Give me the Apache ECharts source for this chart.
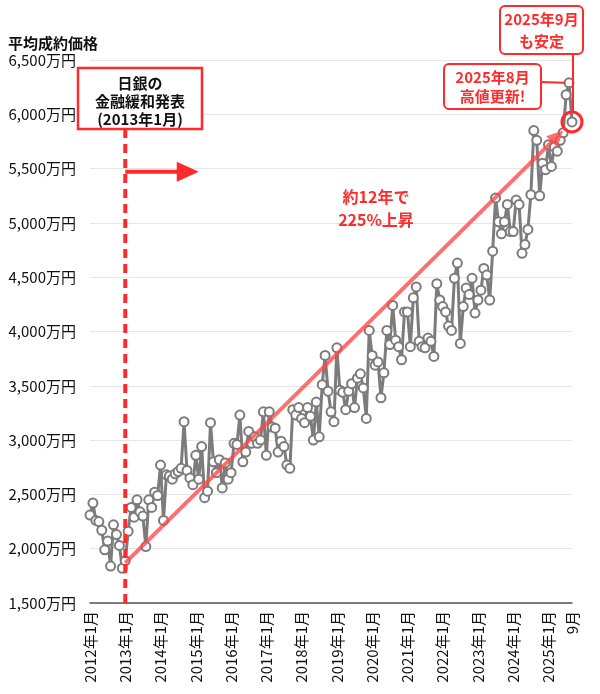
<!DOCTYPE html>
<html><head><meta charset="utf-8">
<script src="https://cdn.jsdelivr.net/npm/echarts@6/dist/echarts.min.js"></script>
<style>html,body{margin:0;padding:0;background:#fff}#c{width:600px;height:694px}</style>
</head><body><div id="c"></div>
<script>
// ---- data ----
const startYear = 2012;
const lastTickLabel = '9月';
const prices = [
  2310, 2420, 2260, 2250, 2170, 1990, 2070, 1840, 2220, 2130, 2030, 1820,
  1890, 2160, 2380, 2290, 2450, 2340, 2300, 2020, 2450, 2380, 2520, 2490,
  2770, 2260, 2680, 2670, 2640, 2690, 2710, 2740, 3170, 2720, 2650, 2590,
  2860, 2640, 2940, 2470, 2530, 3160, 2800, 2700, 2820, 2560, 2790, 2640,
  2700, 2970, 2960, 3230, 2800, 2890, 3080, 2970, 3030, 2970, 3000, 3260,
  2860, 3260, 3120, 3110, 2890, 2990, 2940, 2770, 2740, 3280, 3230, 3300,
  3200, 3160, 3300, 3220, 3000, 3350, 3030, 3510, 3780, 3450, 3260, 3170,
  3850, 3460, 3440, 3280, 3450, 3520, 3300, 3570, 3610, 3480, 3200, 4010,
  3780, 3690, 3720, 3390, 3620, 4010, 3880, 4240, 3920, 3860, 3740, 4180,
  4180, 3860, 4310, 4410, 3910, 3860, 3850, 3940, 3910, 3770, 4440, 4290,
  4230, 4180, 4050, 4010, 4490, 4630, 3890, 4230, 4400, 4340, 4490, 4170,
  4290, 4380, 4580, 4520, 4290, 4740, 5230, 5010, 4900, 5010, 5170, 4920,
  4920, 5210, 5170, 4720, 4800, 4940, 5260, 5850, 5760, 5250, 5550, 5490,
  5720, 5520, 5700, 5660, 5760, 5830, 6180, 6290, 5930
];
const yMin = 1500, yMax = 6500, yStep = 500;
// annotation anchors (category index, value)
const bojIndex = 12;               // 2013年1月
const trendFrom = [12, 1870];
const trendTo = [161, 5850];
const bojArrowFrom = [12, 5470];
const bojArrowTo = [37.4, 5470];
const highIndex = 163;             // 2025年8月
const lastIndex = 164;             // 2025年9月

const categories = [];
for (let k = 0; k < prices.length; k++) {
  const y = startYear + Math.floor(k / 12), m = k % 12 + 1;
  categories.push(y + '年' + m + '月');
}

const FONT = '"Noto Sans CJK JP", "Noto Sans", sans-serif';
const RED = '#ff2a2a';
const fmt = v => String(v).replace(/\B(?=(\d{3})+(?!\d))/g, ',') + '万円';

const chart = echarts.init(document.getElementById('c'), null, {renderer: 'canvas'});
chart.setOption({
  animation: false,
  textStyle: {fontFamily: FONT},
  title: {text: '平均成約価格', left: 3, top: 31,
    textStyle: {fontSize: 15, fontWeight: 'bold', color: '#111', fontFamily: FONT}},
  grid: {left: 90, right: 28, top: 60, bottom: 91},
  xAxis: {
    type: 'category', data: categories, boundaryGap: false,
    axisLine: {lineStyle: {color: '#555', width: 1.5}},
    axisTick: {show: false},
    axisLabel: {
      interval: (i) => i % 12 === 0 || i === categories.length - 1,
      rotate: 90, margin: 8, fontSize: 15, color: '#111', fontFamily: FONT,
      formatter: (v, i) => (i === categories.length - 1 ? lastTickLabel : v)
    },
    splitLine: {show: false}
  },
  yAxis: {
    type: 'value', min: yMin, max: yMax, interval: yStep,
    axisLabel: {formatter: fmt, fontSize: 15, color: '#111', margin: 14, fontFamily: FONT},
    splitLine: {lineStyle: {color: '#e6e6e6', width: 1}},
    axisLine: {show: false}, axisTick: {show: false}
  },
  series: [{
    type: 'line', data: prices, symbol: 'emptyCircle', symbolSize: 9,
    showAllSymbol: true, z: 3,
    lineStyle: {color: '#7c7c7c', width: 3},
    itemStyle: {color: '#7c7c7c', borderColor: '#7c7c7c', borderWidth: 2.5}
  }]
});

const P = (i, v) => chart.convertToPixel({gridIndex: 0}, [i, v]);
function arrow(from, to, headLen, headHalf, color, width, z) {
  const dx = to[0] - from[0], dy = to[1] - from[1];
  const L = Math.sqrt(dx * dx + dy * dy), ux = dx / L, uy = dy / L;
  const bx = to[0] - ux * headLen, by = to[1] - uy * headLen;
  return [
    {type: 'line', z: z, shape: {x1: from[0], y1: from[1], x2: bx + ux * 2, y2: by + uy * 2},
      style: {stroke: color, lineWidth: width}},
    {type: 'polygon', z: z, shape: {points: [[to[0], to[1]],
      [bx - uy * headHalf, by + ux * headHalf], [bx + uy * headHalf, by - ux * headHalf]]},
      style: {fill: color}}
  ];
}
function box(x, y, w, h, r, lines, color, lw) {
  const els = [{type: 'rect', z: 60, shape: {x: x, y: y, width: w, height: h, r: r},
    style: {fill: '#fff', stroke: RED, lineWidth: lw}}];
  lines.forEach(function (t) {
    els.push({type: 'text', z: 61, style: {text: t[0], x: x + w / 2, y: t[1], align: 'center',
      verticalAlign: 'middle', fill: color, font: 'bold 15px ' + FONT}});
  });
  return els;
}

const bx = P(bojIndex, yMin)[0];
const yBottom = P(0, yMin)[1];
const lastPt = P(lastIndex, prices[lastIndex]);
const highPt = P(highIndex, prices[highIndex]);
let g = [];
g.push({type: 'line', z: 50, shape: {x1: bx, y1: 129, x2: bx, y2: yBottom + 6},
  style: {stroke: RED, lineWidth: 4, lineDash: [9, 6]}});
g = g.concat(arrow(P(bojArrowFrom[0], bojArrowFrom[1]), P(bojArrowTo[0], bojArrowTo[1]), 22, 10, RED, 4, 50));
g = g.concat(arrow(P(trendFrom[0], trendFrom[1]), P(trendTo[0], trendTo[1]), 16, 8, 'rgba(255,70,70,0.78)', 4, 50));
g.push({type: 'text', z: 55, style: {text: '約12年で\n225%上昇', x: 376, y: 208, align: 'center',
  verticalAlign: 'middle', fill: RED, font: 'bold 16px ' + FONT, lineHeight: 23}});
g = g.concat(box(78, 68, 124, 61, 0, [['日銀の', 83], ['金融緩和発表', 101], ['(2013年1月)', 119]], '#111', 2.5));
g.push({type: 'line', z: 59, shape: {x1: 540, y1: 82, x2: highPt[0] - 4, y2: highPt[1]},
  style: {stroke: RED, lineWidth: 2}});
g = g.concat(box(444, 64, 97, 45, 5, [['2025年8月', 77], ['高値更新!', 96]], RED, 2));
g.push({type: 'line', z: 59, shape: {x1: lastPt[0] + 1, y1: 54, x2: lastPt[0] + 1, y2: lastPt[1] - 10},
  style: {stroke: RED, lineWidth: 2}});
g = g.concat(box(500, 6, 83, 48, 5, [['2025年9月', 19], ['も安定', 41]], RED, 2));
g.push({type: 'circle', z: 58, shape: {cx: lastPt[0], cy: lastPt[1], r: 10},
  style: {fill: 'none', stroke: RED, lineWidth: 3}});
chart.setOption({graphic: {elements: g}});
</script></body></html>
